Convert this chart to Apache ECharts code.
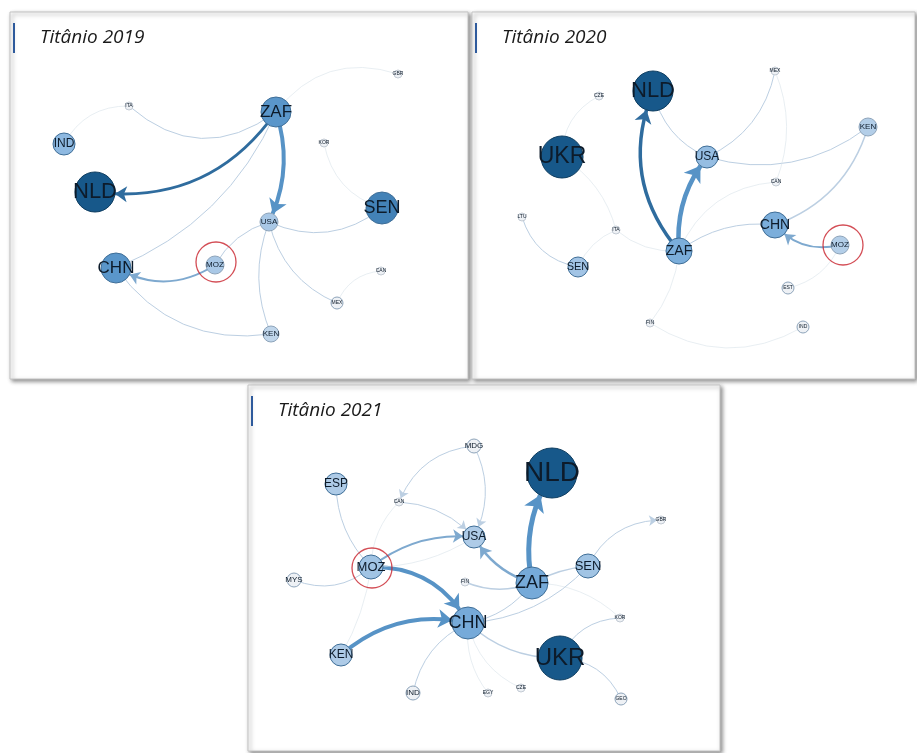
<!DOCTYPE html>
<html lang="pt">
<head>
<meta charset="UTF-8">
<title>Titânio 2019-2021</title>
<script src="https://cdn.jsdelivr.net/npm/echarts@6/dist/echarts.min.js"></script>
<style>
  html, body { margin: 0; padding: 0; background: #fff; }
  #main { width: 917px; height: 753px; }
</style>
</head>
<body>
<div id="main"></div>
<script type="text/javascript">
// ---- dados (coordenadas locais de cada painel) ----
// 2019
var nodes2019 = ['ZAF', 'IND', 'NLD', 'CHN', 'MOZ', 'USA', 'SEN', 'ITA', 'GBR', 'KOR', 'CAN', 'MEX', 'KEN'];
var x2019 = [266, 54, 85, 106, 205, 259, 372, 119, 388, 314, 371, 327, 261];
var y2019 = [100, 132, 180, 256, 253, 210, 196, 94, 62, 131, 259, 291, 322];
var peso2019 = [30, 22, 40, 30, 18, 18, 32, 8, 8, 8, 8, 12, 16];
var links2019 = [
    ['ZAF', 'NLD', 3, 0.3, 1],
    ['ZAF', 'USA', 4, 0.2, 1],
    ['ZAF', 'CHN', 1, 0.2, 0],
    ['ZAF', 'ITA', 1, 0.4, 0],
    ['ZAF', 'GBR', 0.6, 0.35, 0],
    ['IND', 'ITA', 0.6, 0.3, 0],
    ['MOZ', 'CHN', 2, 0.3, 1],
    ['MOZ', 'USA', 1, 0.2, 0],
    ['USA', 'SEN', 1, -0.3, 0],
    ['SEN', 'KOR', 0.6, 0.3, 0],
    ['USA', 'MEX', 1, -0.25, 0],
    ['USA', 'KEN', 1, -0.2, 0],
    ['KEN', 'CHN', 1, 0.3, 0],
    ['MEX', 'CAN', 0.6, 0.3, 0]
];
var moz2019 = [206, 250];

// 2020
var nodes2020 = ['NLD', 'UKR', 'USA', 'ZAF', 'CHN', 'MOZ', 'KEN', 'SEN', 'CZE', 'MEX', 'CAN', 'ITA', 'LTU', 'EST', 'FIN', 'IND'];
var x2020 = [181, 90, 235, 207, 303, 368, 396, 106, 127, 303, 304, 144, 50, 316, 178, 331];
var y2020 = [79, 145, 145, 239, 213, 233, 115, 255, 84, 59, 170, 218, 205, 276, 311, 315];
var peso2020 = [40, 42, 22, 26, 26, 18, 18, 20, 8, 8, 8, 8, 8, 12, 8, 12];
var links2020 = [
    ['ZAF', 'NLD', 3.5, 0.3, 1],
    ['ZAF', 'USA', 4.5, 0.2, 1],
    ['NLD', 'USA', 1, -0.25, 0],
    ['USA', 'MEX', 1, -0.25, 0],
    ['USA', 'KEN', 1, -0.25, 0],
    ['KEN', 'CHN', 1.5, 0.25, 0],
    ['MOZ', 'CHN', 2, 0.3, 1],
    ['ZAF', 'CHN', 1, 0.2, 0],
    ['ZAF', 'CAN', 0.6, 0.3, 0],
    ['MEX', 'CAN', 0.6, 0.2, 0],
    ['UKR', 'CZE', 0.6, 0.3, 0],
    ['UKR', 'ITA', 0.6, 0.2, 0],
    ['ITA', 'ZAF', 0.6, -0.2, 0],
    ['SEN', 'ITA', 0.6, 0.2, 0],
    ['SEN', 'LTU', 1, 0.3, 0],
    ['ZAF', 'FIN', 0.6, 0.15, 0],
    ['FIN', 'IND', 0.6, -0.3, 0],
    ['MOZ', 'EST', 0.6, 0.25, 0]
];
var moz2020 = [371, 233];

// 2021
var nodes2021 = ['NLD', 'UKR', 'CHN', 'ZAF', 'USA', 'SEN', 'MOZ', 'ESP', 'KEN', 'MYS', 'IND', 'MDG', 'CAN', 'GBR', 'FIN', 'KOR', 'EGY', 'CZE', 'GEO'];
var x2021 = [304, 312, 220, 284, 226, 340, 123, 88, 93, 46, 165, 226, 151, 413, 217, 372, 240, 273, 373];
var y2021 = [88, 273, 238, 198, 152, 181, 182, 99, 270, 195, 308, 61, 117, 135, 197, 233, 308, 303, 314];
var peso2021 = [50, 44, 32, 32, 22, 24, 24, 22, 22, 14, 14, 14, 8, 8, 8, 8, 8, 8, 12];
var links2021 = [
    ['ZAF', 'NLD', 5, 0.2, 1],
    ['MOZ', 'CHN', 4, 0.3, 1],
    ['KEN', 'CHN', 4, 0.25, 1],
    ['ZAF', 'USA', 2.5, 0.2, 1],
    ['MOZ', 'USA', 2, 0.2, 1],
    ['MOZ', 'USA', 0.6, -0.15, 0],
    ['ZAF', 'SEN', 1.5, 0.1, 0],
    ['SEN', 'GBR', 1, 0.3, 1],
    ['ZAF', 'FIN', 1.5, 0.2, 0],
    ['ZAF', 'CHN', 1, 0.2, 0],
    ['SEN', 'CHN', 1, 0.2, 0],
    ['CHN', 'UKR', 1.5, -0.2, 0],
    ['UKR', 'KOR', 1, 0.3, 0],
    ['UKR', 'GEO', 1, 0.3, 0],
    ['ZAF', 'KOR', 0.6, 0.2, 0],
    ['CHN', 'IND', 1, -0.25, 0],
    ['CHN', 'EGY', 0.6, -0.2, 0],
    ['CHN', 'CZE', 0.6, -0.25, 0],
    ['MOZ', 'ESP', 1, 0.2, 0],
    ['MOZ', 'MYS', 1, 0.3, 0],
    ['MOZ', 'KEN', 0.6, 0.1, 0],
    ['MOZ', 'CAN', 0.6, 0.2, 0],
    ['MDG', 'CAN', 1, -0.3, 1],
    ['MDG', 'USA', 1, 0.25, 1],
    ['CAN', 'USA', 1, 0.2, 1]
];
var moz2021 = [124, 183];

var anos = ['Titânio 2019', 'Titânio 2020', 'Titânio 2021'];

// ---- estilos ----
// escala de cor pelo peso relativo ao maior nó do ano
var paradas = [
    [0.3, [238, 241, 245]],
    [0.45, [169, 200, 230]],
    [0.6, [128, 178, 222]],
    [0.78, [82, 144, 198]],
    [0.86, [23, 88, 138]]
];
function corNo(r) {
    if (r <= paradas[0][0]) return 'rgb(' + paradas[0][1].join(',') + ')';
    for (var i = 1; i < paradas.length; i++) {
        if (r <= paradas[i][0]) {
            var a = paradas[i - 1], b = paradas[i];
            var t = (r - a[0]) / (b[0] - a[0]);
            var c = a[1].map(function (v, k) { return Math.round(v + (b[1][k] - v) * t); });
            return 'rgb(' + c.join(',') + ')';
        }
    }
    return 'rgb(' + paradas[paradas.length - 1][1].join(',') + ')';
}
function bordaNo(s) {
    if (s >= 38) return '#0e3d60';
    if (s >= 20) return '#3f6e97';
    if (s >= 12) return '#8ea4ba';
    return '#c3cbd4';
}
function fonteNo(s) {
    if (s >= 20) return Math.round(s * 0.55);
    if (s >= 14) return 8;
    return 5;
}
function corAresta(w) {
    if (w >= 4) return '#5793c6';
    if (w >= 3) return '#2f6c9e';
    if (w >= 2) return '#7ea9cf';
    if (w >= 1) return '#bccfe2';
    return '#d9e2ea';
}

function montaSerie(idx, nomes, xs, ys, pesos, links) {
    var maior = Math.max.apply(null, pesos);
    var data = nomes.map(function (n, i) {
        var s = pesos[i];
        return {
            name: n,
            value: [xs[i], ys[i]],
            symbolSize: s,
            itemStyle: { color: corNo(s / maior), borderColor: bordaNo(s), borderWidth: 1 },
            label: { show: true, position: 'inside', fontSize: fonteNo(s), color: '#0d1b2a', fontFamily: 'Liberation Sans' }
        };
    });
    var arestas = links.map(function (l) {
        return {
            source: l[0],
            target: l[1],
            symbol: l[4] ? ['none', 'arrow'] : ['none', 'none'],
            symbolSize: [0, 6 + l[2] * 2],
            lineStyle: { width: l[2], curveness: l[3], color: corAresta(l[2]), opacity: 1 }
        };
    });
    return {
        type: 'graph',
        coordinateSystem: 'cartesian2d',
        xAxisIndex: idx,
        yAxisIndex: idx,
        data: data,
        links: arestas,
        z: 2
    };
}

// ---- paineis ----
var paineis = [
    { left: 10, top: 12, width: 460, height: 369 },
    { left: 472, top: 12, width: 445, height: 369 },
    { left: 248, top: 385, width: 474, height: 368 }
];

var grids = [], xAxes = [], yAxes = [], titles = [], graficos = [];
paineis.forEach(function (p, i) {
    grids.push({ left: p.left, top: p.top, width: p.width, height: p.height, show: false });
    xAxes.push({ gridIndex: i, type: 'value', min: 0, max: p.width, show: false });
    yAxes.push({ gridIndex: i, type: 'value', min: 0, max: p.height, inverse: true, show: false });
    titles.push({
        text: anos[i],
        left: p.left + 30,
        top: p.top + 16,
        padding: 0,
        textStyle: { fontStyle: 'italic', fontWeight: 'normal', fontSize: 19, fontFamily: 'Open Sans', color: '#1a1a1a' }
    });
    graficos.push({
        type: 'rect',
        shape: { x: p.left, y: p.top, width: p.width - 2, height: p.height - 2 },
        style: { fill: '#fff', stroke: '#c4c4c4', lineWidth: 1, shadowBlur: 4, shadowOffsetX: 2, shadowOffsetY: 2, shadowColor: 'rgba(0,0,0,0.45)' },
        z: -10
    });
    graficos.push({
        type: 'rect',
        shape: { x: p.left + 3, y: p.top + 11, width: 2, height: 30 },
        style: { fill: '#2e5a9c' },
        z: -5
    });
});

var series = [
    montaSerie(0, nodes2019, x2019, y2019, peso2019, links2019),
    montaSerie(1, nodes2020, x2020, y2020, peso2020, links2020),
    montaSerie(2, nodes2021, x2021, y2021, peso2021, links2021)
];
// destaque em vermelho do MOZ
[moz2019, moz2020, moz2021].forEach(function (m, i) {
    series.push({
        type: 'scatter',
        xAxisIndex: i,
        yAxisIndex: i,
        data: [m],
        symbolSize: 40,
        itemStyle: { color: 'rgba(0,0,0,0)', borderColor: '#c8202a', borderWidth: 1.3 },
        silent: true,
        z: 5
    });
});

var chart = echarts.init(document.getElementById('main'));
chart.setOption({
    backgroundColor: '#fff',
    animation: false,
    title: titles,
    grid: grids,
    xAxis: xAxes,
    yAxis: yAxes,
    graphic: graficos,
    series: series
});
</script>
</body>
</html>
